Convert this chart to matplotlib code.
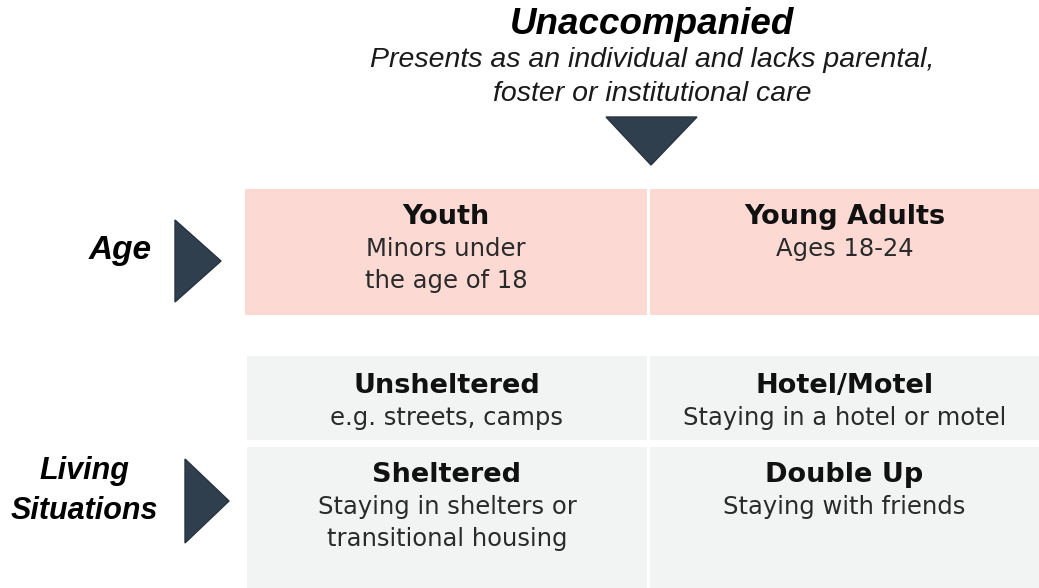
import matplotlib
matplotlib.use("Agg")
import matplotlib.pyplot as plt
from matplotlib.patches import Rectangle, Polygon

# ---- content ----
header_title = "Unaccompanied"
header_sub = ["Presents as an individual and lacks parental,", "foster or institutional care"]
row_labels = [["Age"], ["Living", "Situations"]]
age_titles = ["Youth", "Young Adults"]
age_subs = [["Minors under", "the age of 18"], ["Ages 18-24"]]
living_titles = ["Unsheltered", "Hotel/Motel", "Sheltered", "Double Up"]
living_subs = [["e.g. streets, camps"], ["Staying in a hotel or motel"],
               ["Staying in shelters or", "transitional housing"], ["Staying with friends"]]

# ---- style ----
PINK = "#FCDAD3"
GRAY = "#F2F3F3"
DARK = "#2F3F4E"
EDGE = "#27343F"
BOXFONT = "DejaVu Sans"

fig = plt.figure(figsize=(10.39, 5.88), dpi=100)
ax = fig.add_axes([0, 0, 1, 1])
ax.set_xlim(0, 1039)
ax.set_ylim(588, 0)
ax.axis("off")

# header
ax.text(652, 24, header_title, ha="center", va="center", fontsize=26.5,
        fontweight="bold", style="italic", family="Liberation Sans", color="black")
for i, line in enumerate(header_sub):
    ax.text(652, 60 + 34 * i, line, ha="center", va="center", fontsize=20.5,
            style="italic", family="Liberation Sans", color="#1a1a1a")

# triangles
ax.add_patch(Polygon([[606, 117], [697, 117], [651, 165]], closed=True, fc=DARK, ec=EDGE, lw=1))
ax.add_patch(Polygon([[175, 220], [175, 302], [221, 261]], closed=True, fc=DARK, ec=EDGE, lw=1))
ax.add_patch(Polygon([[185, 459], [185, 543], [229, 501]], closed=True, fc=DARK, ec=EDGE, lw=1))

# row labels
ax.text(120, 251, row_labels[0][0], ha="center", va="center", fontsize=24,
        fontweight="bold", style="italic", family="Liberation Sans")
for i, line in enumerate(row_labels[1]):
    ax.text(84, 471 + 40 * i, line, ha="center", va="center", fontsize=22,
            fontweight="bold", style="italic", family="Liberation Sans")

def cell(x0, x1, y0, y1, color, title, subs, ty):
    ax.add_patch(Rectangle((x0, y0), x1 - x0, y1 - y0, fc=color, ec="none"))
    cx = (x0 + x1) / 2
    ax.text(cx, ty, title, ha="center", va="center", fontsize=19.5,
            fontweight="bold", family=BOXFONT, color="#111111")
    for i, line in enumerate(subs):
        ax.text(cx, ty + 32 + 32 * i, line, ha="center", va="center", fontsize=17.5,
                family=BOXFONT, color="#2a2a2a")

cols = [(245, 647), (650, 1039)]
for j in range(2):
    cell(cols[j][0], cols[j][1], 189, 315, PINK, age_titles[j], age_subs[j], 217)

lcols = [(247, 647), (650, 1039)]
rows = [(356, 440, 386), (447, 588, 475)]
k = 0
for r in range(2):
    for j in range(2):
        y0, y1, ty = rows[r]
        cell(lcols[j][0], lcols[j][1], y0, y1, GRAY, living_titles[k], living_subs[k], ty)
        k += 1

fig.savefig("out.png", dpi=100)
